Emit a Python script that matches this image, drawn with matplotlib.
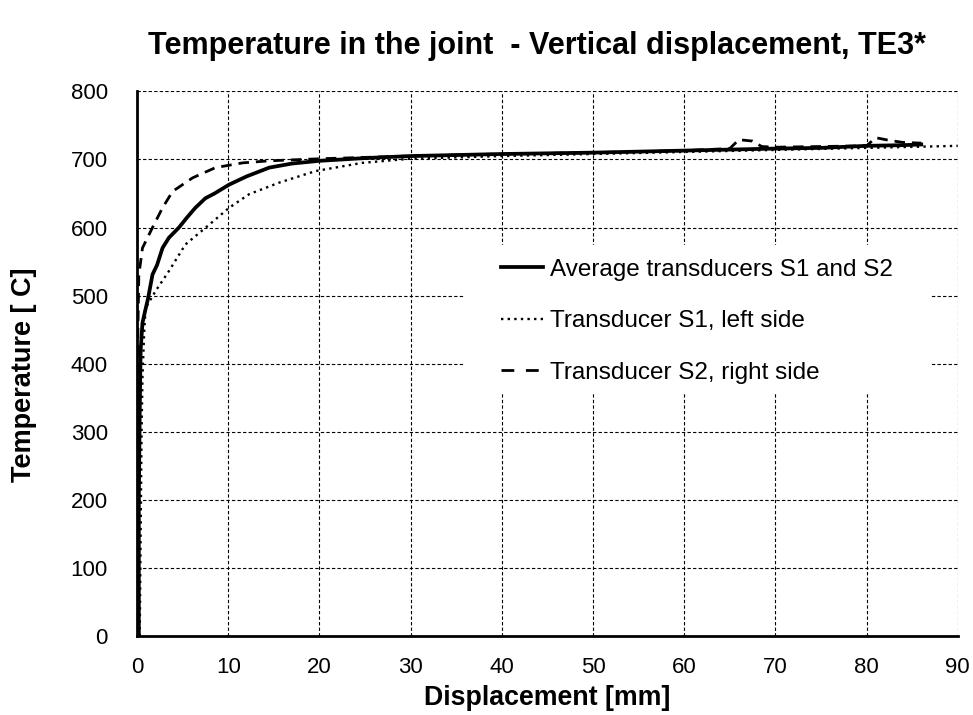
import numpy as np
import matplotlib
matplotlib.use('Agg')
import matplotlib.pyplot as plt
from matplotlib.patches import Rectangle

plt.rcParams['font.family'] = ['Liberation Sans', 'DejaVu Sans']

# average of S1 and S2 (solid)
avg_x = [0.2, 0.2, 0.3, 0.4, 0.6, 0.9, 1.2, 1.7, 2.2, 2.8, 3.5, 4.6, 5.5, 6.4, 7.5, 8.5,
         10.1, 12.0, 14.5, 17.0, 20.0, 25.0, 30.0, 40.0, 50.0, 60.0, 70.0, 75.0, 80.0, 84.0, 86.0]
avg_y = [0, 200, 330, 420, 460, 478, 495, 531, 545, 570, 585, 600, 615, 629, 643, 650,
         663, 675, 688, 694, 698, 702, 705, 708, 710, 713, 716, 717, 720, 721, 722]

# transducer S1, left side (dotted)
s1_x = [0.3, 0.4, 0.5, 0.6, 0.8, 0.95, 2.05, 3.5, 5.3, 7.9, 10.1, 12.3, 15.6, 19.6,
        24.7, 29.9, 40.0, 50.0, 60.0, 70.0, 80.0, 90.0]
s1_y = [0, 150, 300, 380, 450, 482, 507, 536, 575, 604, 629, 649, 666, 683,
        695, 701, 705, 708, 711, 714, 717, 720]

# transducer S2, right side (dashed)
s2_x = [0.0, 0.05, 0.1, 0.2, 0.6, 1.7, 2.8, 3.9, 6.1, 8.6, 11.6, 14.5, 20.0, 30.0,
        40.0, 50.0, 60.0, 65.0, 66.0, 67.5, 68.5, 70.0, 75.0, 80.0, 81.0, 82.5, 84.0, 86.0]
s2_y = [0, 300, 450, 530, 570, 600, 629, 653, 673, 688, 695, 698, 701, 705,
        708, 710, 713, 716, 729, 727, 719, 718, 719, 720, 732, 728, 725, 724]

fig = plt.figure(figsize=(9.73, 7.15), dpi=100)
ax = fig.add_axes([0.1408, 0.1105, 0.8435, 0.7617])

ax.plot(avg_x, avg_y, color='black', lw=2.7, label='Average transducers S1 and S2')
ax.plot(s1_x, s1_y, color='black', lw=1.7, linestyle=(0, (1, 1.8)),
        label='Transducer S1, left side')
ax.plot(s2_x, s2_y, color='black', lw=2.0, linestyle=(0, (3.8, 2.5)),
        label='Transducer S2, right side')

ax.set_xlim(0, 90)
ax.set_ylim(0, 800)
ax.set_xticks(np.arange(0, 91, 10))
ax.set_yticks(np.arange(0, 801, 100))
ax.tick_params(length=0, labelsize=16)
ax.tick_params(axis='x', pad=15)
ax.tick_params(axis='y', pad=21)
ax.grid(True, color='black', lw=0.8, linestyle=(0, (3, 2)))
ax.set_axisbelow(True)
for s in ['top', 'right']:
    ax.spines[s].set_visible(False)
for s in ['left', 'bottom']:
    ax.spines[s].set_linewidth(2)

ax.set_xlabel('Displacement [mm]', fontsize=19.3, fontweight='bold', labelpad=5)
ax.set_ylabel('Temperature [ C]', fontsize=19.5, fontweight='bold')
ax.yaxis.set_label_coords(-0.122, 0.48)
fig.text(0.552, 0.935, 'Temperature in the joint  - Vertical displacement, TE3*',
         fontsize=22, fontweight='bold', ha='center', va='center')

# white legend background (no border), covers the grid
ax.add_patch(Rectangle((0.3995, 0.446), 0.5665, 0.2715, transform=ax.transAxes,
                       facecolor='white', edgecolor='none', zorder=1))

leg = ax.legend(loc='upper left', bbox_to_anchor=(0.444, 0.693), frameon=False,
                fontsize=17.5, handlelength=1.73, handletextpad=0.25, labelspacing=1.22,
                borderpad=0, borderaxespad=0)
# legend dashes are longer than on the curve
leg.get_lines()[2].set_linestyle((0, (4.6, 4.2)))

fig.savefig('out.png', dpi=100)
